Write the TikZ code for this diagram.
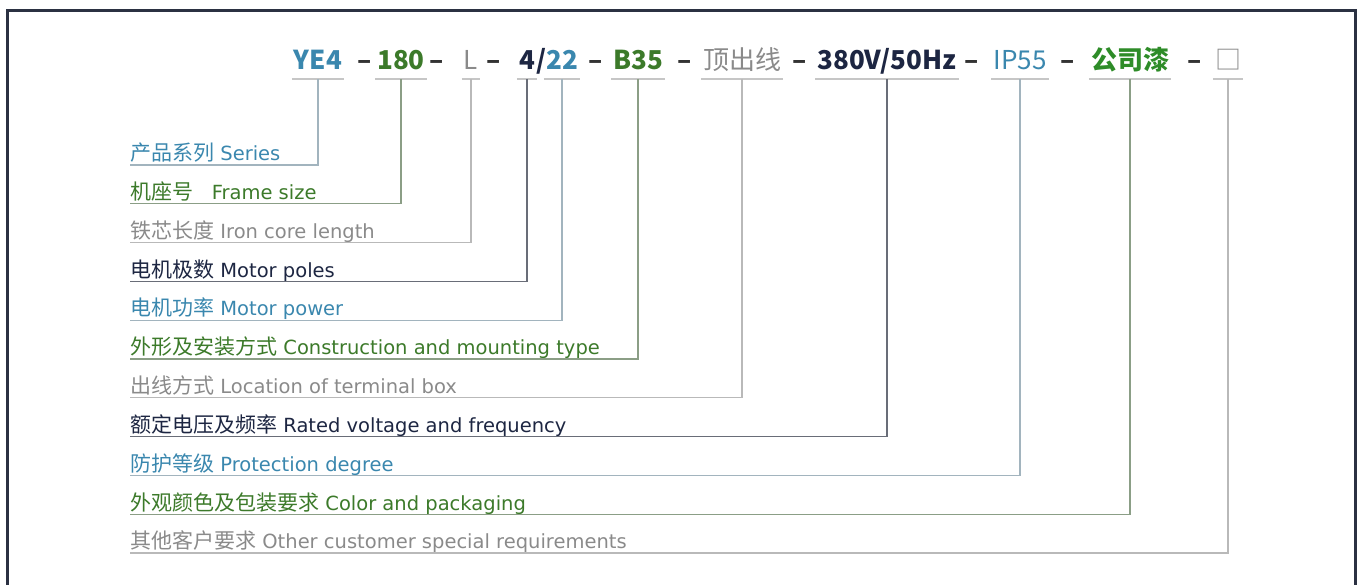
\documentclass[tikz,border=0pt]{standalone}
\usepackage{fontspec}
\setmainfont{DejaVu Sans}
\newfontfamily\cjk{Noto Sans CJK SC}
\usetikzlibrary{positioning}
\definecolor{cTeal} {HTML}{3A87AE}
\definecolor{cGreen}{HTML}{3C7A2A}
\definecolor{cLeaf} {HTML}{2E8C28}
\definecolor{cGrey} {HTML}{8A8A8A}
\definecolor{cNavy} {HTML}{1D2642}
\definecolor{cDash} {HTML}{333333}
\definecolor{cFrame}{HTML}{2B3142}
\colorlet{lTeal}{cTeal!40!gray!60}
\colorlet{lGreen}{cGreen!40!gray!75}
\colorlet{lGrey}{gray!55}
\colorlet{lNavy}{cNavy!50!gray!85}
\newcommand{\lab}[2]{{\cjk\fontsize{21}{24}\selectfont #1} #2}

\begin{document}
\begin{tikzpicture}[x=1pt, y=-1pt,
      code/.style = {anchor=south, inner xsep=2pt, inner ysep=0pt, text height=19pt, text depth=9pt, font=\cjk\bfseries\fontsize{26}{28}\selectfont},
      dsh/.style  = {code, text=cDash},
      lab/.style  = {inner sep=0pt, text height=16pt, text depth=4pt, font=\fontsize{19.5}{22}\selectfont},
      uline/.style = {draw=gray!45, line width=1.2pt},
      link/.style  = {draw=#1, line width=1.3pt} ]
    \useasboundingbox (0,0) rectangle (1362,585);
    \draw[cFrame, line width=3pt] (7,590) |- (1355,11) -- (1355,590);

    % code line
    \node[code, text=cTeal]  (c1)  at (318,79)  {YE4};
    \node[dsh]               (d1)  at (365,79)  {–};
    \node[code, text=cGreen] (c2)  at (401,79)  {180};
    \node[dsh]               (d2)  at (437,79)  {–};
    \node[code, text=cGrey, font=\cjk\fontsize{26}{28}\selectfont] (c3) at (471,79) {L};
    \node[dsh]               (d3)  at (494,79)  {–};
    \node[code, text=cNavy]  (c4)  at (527,79)  {4};
    \node[code, text=cNavy, inner xsep=0pt] (sl) at (541,79) {/};
    \node[code, text=cTeal]  (c5)  at (562,79)  {22};
    \node[dsh]               (d4)  at (596,79)  {–};
    \node[code, text=cGreen] (c6)  at (638,79)  {B35};
    \node[dsh]               (d5)  at (685,79)  {–};
    \node[code, text=cGrey, font=\cjk\fontsize{26}{28}\selectfont] (c7) at (742,79) {顶出线};
    \node[dsh]               (d6)  at (800,79)  {–};
    \node[code, text=cNavy]  (c8)  at (887,79)  {380V/50Hz};
    \node[dsh]               (d7)  at (972,79)  {–};
    \node[code, text=cTeal, font=\cjk\fontsize{26}{28}\selectfont] (c9) at (1020,79) {IP55};
    \node[dsh]               (d8)  at (1068,79) {–};
    \node[code, text=cLeaf]  (c10) at (1130,79) {公司漆};
    \node[dsh]               (d9)  at (1195,79) {–};
    \node[code, text=cGrey, font=\cjk\fontsize{26}{28}\selectfont] (c11) at (1228,79) {□};

    \foreach \i in {1,...,11}
      \draw[uline] (c\i.south west) -- (c\i.south east);

    % meaning of each field
    \node[lab, anchor=south west, text=cTeal] (l1) at (130,165) {\lab{产品系列}{Series}};
    \node[lab, below=18.4pt of l1.south west, anchor=north west, text=cGreen] (l2)  {\lab{机座号}{\ \ Frame size}};
    \node[lab, below=18.4pt of l2.south west, anchor=north west, text=cGrey]  (l3)  {\lab{铁芯长度}{Iron core length}};
    \node[lab, below=18.4pt of l3.south west, anchor=north west, text=cNavy]  (l4)  {\lab{电机极数}{Motor poles}};
    \node[lab, below=18.4pt of l4.south west, anchor=north west, text=cTeal]  (l5)  {\lab{电机功率}{Motor power}};
    \node[lab, below=18.4pt of l5.south west, anchor=north west, text=cGreen] (l6)  {\lab{外形及安装方式}{Construction and mounting type}};
    \node[lab, below=18.4pt of l6.south west, anchor=north west, text=cGrey]  (l7)  {\lab{出线方式}{Location of terminal box}};
    \node[lab, below=18.4pt of l7.south west, anchor=north west, text=cNavy]  (l8)  {\lab{额定电压及频率}{Rated voltage and frequency}};
    \node[lab, below=18.4pt of l8.south west, anchor=north west, text=cTeal]  (l9)  {\lab{防护等级}{Protection degree}};
    \node[lab, below=18.4pt of l9.south west, anchor=north west, text=cGreen] (l10) {\lab{外观颜色及包装要求}{Color and packaging}};
    \node[lab, below=18.4pt of l10.south west, anchor=north west, text=cGrey] (l11) {\lab{其他客户要求}{Other customer special requirements}};

    \foreach \i/\c in {1/lTeal, 2/lGreen, 3/lGrey, 4/lNavy, 5/lTeal, 6/lGreen,
                       7/lGrey, 8/lNavy, 9/lTeal, 10/lGreen, 11/lGrey}
      \draw[link=\c] (c\i.south) |- (l\i.south west);
  \end{tikzpicture}
\end{document}
